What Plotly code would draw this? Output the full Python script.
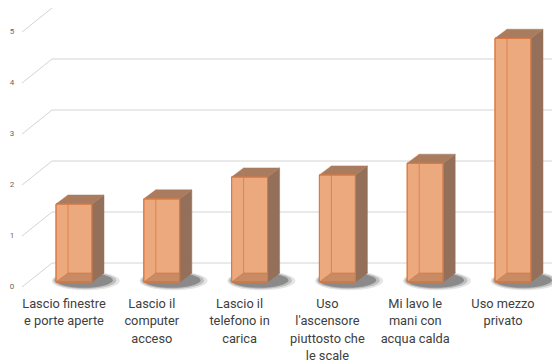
import plotly.graph_objects as go

# ---- data ----
categories = [
    "Lascio finestre<br>e porte aperte",
    "Lascio il<br>computer<br>acceso",
    "Lascio il<br>telefono in<br>carica",
    "Uso<br>l'ascensore<br>piuttosto che<br>le scale",
    "Mi lavo le<br>mani con<br>acqua calda",
    "Uso mezzo<br>privato",
]
values = [1.53, 1.63, 2.06, 2.10, 2.33, 4.78]
y_ticks = [0, 1, 2, 3, 4, 5]
grid_ticks = [0, 1, 2, 3, 4]

# ---- geometry / style ----
W, H = 552, 362
XS, YS = 87.8, 51.0            # px per x unit / y unit
X0PX, Y0PX = 74.0, 282.0       # pixel of (x=0, y=0)
xr = [-X0PX / XS, (W - X0PX) / XS]
yr = [(Y0PX - H) / YS, Y0PX / YS]

BW = 36 / XS                   # bar front width
DX, DY = 12 / XS, 9 / YS       # bar depth offset
FRONT_DX, FRONT_DY = -0.592, -5 / YS      # front plane of floor (labels)
BACK_DX, BACK_DY = -0.25, 19 / YS         # back wall
LABEL_FIRST_PX, LABEL_STEP_PX = 304.5, 17.6

FRONT = "#EBA97D"
EDGE = "#DC7A40"
SIDE = "#94705A"
TOP = "#A97C5F"

idx = list(range(len(values)))

fig = go.Figure()

shapes = []
# gridlines (back wall + diagonals)
for v in y_ticks:
    shapes.append(dict(type="line", layer="below", xref="x", yref="y",
                       x0=FRONT_DX, y0=v + FRONT_DY, x1=BACK_DX, y1=v + BACK_DY,
                       line=dict(color="#D4D4D4", width=1)))
for v in grid_ticks:
    shapes.append(dict(type="line", layer="below", xref="x", yref="y",
                       x0=BACK_DX, y0=v + BACK_DY, x1=xr[1], y1=v + BACK_DY,
                       line=dict(color="#D4D4D4", width=1)))
# shadows (soft, layered)
for i in idx:
    for k, (pad, a) in enumerate([(0.10, 0.12), (0.06, 0.2), (0.02, 0.35)]):
        shapes.append(dict(type="circle", layer="below", xref="x", yref="y",
                           x0=i - BW / 2 - pad * 0.5, x1=i + BW / 2 + DX + 0.08 + pad,
                           y0=-0.10 - pad * 0.6, y1=DY + pad * 0.3,
                           fillcolor=f"rgba(40,40,40,{a})", line=dict(width=0)))

# front faces
fig.add_trace(go.Bar(x=idx, y=values, width=BW, base=0,
                     marker=dict(color=FRONT, line=dict(color=EDGE, width=1)),
                     hoverinfo="skip", showlegend=False))

for i, v in zip(idx, values):
    l, r = i - BW / 2, i + BW / 2
    # bottom face seen through
    fig.add_trace(go.Scatter(x=[l, l + DX, r + DX, r, l], y=[0, DY, DY, 0, 0],
                             fill="toself", fillcolor="rgba(150,95,60,0.40)",
                             mode="lines", line=dict(color="rgba(200,110,60,0.5)", width=1),
                             hoverinfo="skip", showlegend=False))
    # side face
    fig.add_trace(go.Scatter(x=[r, r + DX, r + DX, r, r], y=[0, DY, v + DY, v, 0],
                             fill="toself", fillcolor=SIDE, mode="lines",
                             line=dict(color=SIDE, width=0.5),
                             hoverinfo="skip", showlegend=False))
    # top face
    fig.add_trace(go.Scatter(x=[l, l + DX, r + DX, r, l], y=[v, v + DY, v + DY, v, v],
                             fill="toself", fillcolor=TOP, mode="lines",
                             line=dict(color=TOP, width=0.5),
                             hoverinfo="skip", showlegend=False))
    # hidden back-left edge seen through
    fig.add_trace(go.Scatter(x=[l + DX, l + DX], y=[DY, v + DY], mode="lines",
                             line=dict(color="rgba(215,115,60,0.7)", width=1),
                             hoverinfo="skip", showlegend=False))
    # front outline on top
    fig.add_trace(go.Scatter(x=[l, l, r, r, l], y=[0, v, v, 0, 0], mode="lines",
                             line=dict(color=EDGE, width=1),
                             hoverinfo="skip", showlegend=False))

# y tick labels
fig.add_trace(go.Scatter(x=[xr[0] + 12 / XS] * len(y_ticks),
                         y=[v + FRONT_DY for v in y_ticks],
                         text=[str(v) for v in y_ticks], mode="text",
                         textfont=dict(size=8, color="#666666", family="Roboto, sans-serif"),
                         hoverinfo="skip", showlegend=False))
# category labels, one point per line
lx, ly, lt = [], [], []
for i, c in zip(idx, categories):
    for k, line in enumerate(c.split("<br>")):
        lx.append(i - 10 / XS)
        ly.append((Y0PX - (LABEL_FIRST_PX + k * LABEL_STEP_PX)) / YS)
        lt.append(line)
fig.add_trace(go.Scatter(x=lx, y=ly, text=lt, mode="text", textposition="middle center",
                         textfont=dict(size=12.8, color="#404040", family="Roboto, sans-serif"),
                         hoverinfo="skip", showlegend=False))

fig.update_layout(
    width=W, height=H, margin=dict(l=0, r=0, t=0, b=0),
    paper_bgcolor="white", plot_bgcolor="white",
    xaxis=dict(range=xr, visible=False, fixedrange=True),
    yaxis=dict(range=yr, visible=False, fixedrange=True),
    shapes=shapes, barmode="overlay",
)
fig.write_html("out.html")
